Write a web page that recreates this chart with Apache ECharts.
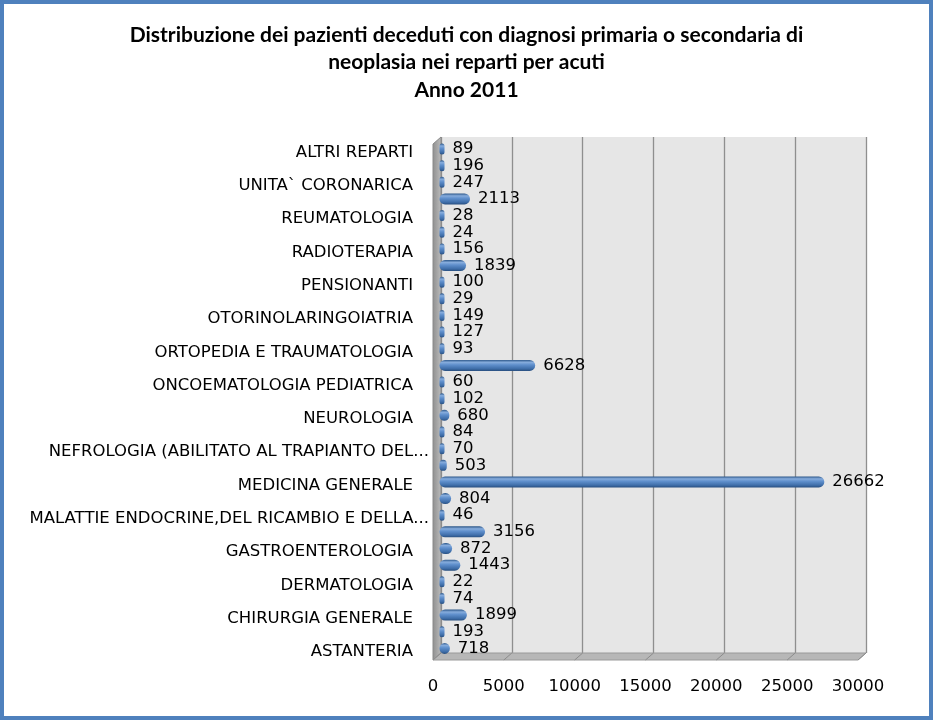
<!DOCTYPE html>
<html><head><meta charset="utf-8">
<script src="https://cdn.jsdelivr.net/npm/echarts@6/dist/echarts.min.js"></script>
<style>html,body{margin:0;padding:0;background:#fff}#c{width:933px;height:720px}</style>
</head><body><div id="c"></div>
<script>
// ---- data ----
const titleLines = [
  'Distribuzione dei pazienti deceduti con diagnosi primaria o secondaria di',
  'neoplasia nei reparti per acuti',
  'Anno 2011'
];
const categories = [
  'ASTANTERIA', 'CARDIOLOGIA', 'CHIRURGIA GENERALE', 'CHIRURGIA VASCOLARE', 'DERMATOLOGIA',
  'EMATOLOGIA', 'GASTROENTEROLOGIA', 'GERIATRIA',
  'MALATTIE ENDOCRINE,DEL RICAMBIO E DELLA NUTRIZIONE', 'MALATTIE INFETTIVE E TROPICALI',
  'MEDICINA GENERALE', 'NEFROLOGIA', 'NEFROLOGIA (ABILITATO AL TRAPIANTO DEL RENE)',
  'NEUROCHIRURGIA', 'NEUROLOGIA', 'NEUROPSICHIATRIA INFANTILE', 'ONCOEMATOLOGIA PEDIATRICA',
  'ONCOLOGIA', 'ORTOPEDIA E TRAUMATOLOGIA', 'OSTETRICIA E GINECOLOGIA', 'OTORINOLARINGOIATRIA',
  'PEDIATRIA', 'PENSIONANTI', 'PNEUMOLOGIA', 'RADIOTERAPIA', 'RECUPERO E RIABILITAZIONE FUNZIONALE',
  'REUMATOLOGIA', 'TERAPIA INTENSIVA', 'UNITA` CORONARICA', 'UROLOGIA', 'ALTRI REPARTI'
];
const deceased = [
  718, 193, 1899, 74, 22,
  1443, 872, 3156,
  46, 804,
  26662, 503, 70,
  84, 680, 102, 60,
  6628, 93, 127, 149,
  29, 100, 1839, 156, 24,
  28, 2113, 247, 196, 89
];
const xTickLabels = ['0', '5000', '10000', '15000', '20000', '25000', '30000'];
const xMin = 0, xMax = 30000, xStep = 5000;

// ---- layout / style ----
const WALL = { left: 441, top: 137, width: 425, height: 516 };
const DEPTH = { dx: -8, dy: 7 };
const BARS = { left: 439.5, top: 140.7, width: 433, height: 516 };
const FONT = 'DejaVu Sans';

const chart = echarts.init(document.getElementById('c'));
const B = WALL.top + WALL.height, R = WALL.left + WALL.width;
const graphics = [
  { type: 'rect', z: 10, shape: { x: 2, y: 2, width: 929, height: 716 },
    style: { fill: 'none', stroke: '#4f81bd', lineWidth: 4 } },
  { type: 'polygon', z: 1, shape: { points: [
      [WALL.left, WALL.top], [WALL.left + DEPTH.dx, WALL.top + DEPTH.dy],
      [WALL.left + DEPTH.dx, B + DEPTH.dy], [WALL.left, B]] },
    style: { fill: new echarts.graphic.LinearGradient(0, 0, 1, 0, [
      { offset: 0, color: '#8e8e8e' }, { offset: 1, color: '#bdbdbd' }]), stroke: '#8a8a8a', lineWidth: 1 } },
  { type: 'polygon', z: 1, shape: { points: [
      [WALL.left, B], [R, B], [R + DEPTH.dx, B + DEPTH.dy], [WALL.left + DEPTH.dx, B + DEPTH.dy]] },
    style: { fill: '#b7b7b7', stroke: '#9a9a9a', lineWidth: 1 } }
];
for (let i = 0; i < xTickLabels.length; i++) {
  const x = WALL.left + WALL.width * i / (xTickLabels.length - 1);
  graphics.push({ type: 'line', z: 2, shape: { x1: x, y1: B, x2: x + DEPTH.dx, y2: B + DEPTH.dy },
    style: { stroke: '#8c8c8c', lineWidth: 1 } });
}

const option = {
  animation: false,
  backgroundColor: '#ffffff',
  title: {
    text: titleLines.join('\n'),
    left: 'center', top: 16,
    textStyle: { fontFamily: 'Lato', fontWeight: 'bold', fontSize: 21, lineHeight: 27.5, color: '#000' }
  },
  graphic: graphics,
  grid: [
    { left: WALL.left, top: WALL.top, width: WALL.width, height: WALL.height,
      show: true, backgroundColor: '#e6e6e6', borderWidth: 0, containLabel: false },
    { left: BARS.left, top: BARS.top, width: BARS.width, height: BARS.height, containLabel: false },
    { left: WALL.left + DEPTH.dx, top: WALL.top + DEPTH.dy, width: WALL.width, height: WALL.height, containLabel: false }
  ],
  xAxis: [
    { type: 'value', gridIndex: 0, min: xMin, max: xMax, interval: xStep,
      axisLabel: { show: false }, axisLine: { show: false }, axisTick: { show: false },
      splitLine: { show: true, lineStyle: { color: '#8f8f8f', width: 1.3 } } },
    { type: 'value', gridIndex: 1, min: xMin, max: xMax, interval: xStep, show: false },
    { type: 'value', gridIndex: 2, min: xMin, max: xMax, interval: xStep,
      axisLine: { show: false }, axisTick: { show: false }, splitLine: { show: false },
      axisLabel: { margin: 18, color: '#000', fontFamily: FONT, fontSize: 16.5,
        formatter: (v, i) => xTickLabels[i] } }
  ],
  yAxis: [
    { type: 'category', gridIndex: 0, data: categories, show: false },
    { type: 'category', gridIndex: 1, data: categories,
      axisLine: { show: false }, axisTick: { show: false }, splitLine: { show: false },
      axisLabel: {
        interval: 1, margin: 10.5,
        formatter: v => {
          if (v.length > 40) {
            let s = v.substring(0, 40);
            s = s.substring(0, s.lastIndexOf(' '));
            return '{t|' + s + '...}';
          }
          return '{n|' + v + '}';
        },
        rich: {
          n: { fontFamily: FONT, fontSize: 16.5, color: '#000', padding: [7, 16, 0, 0] },
          t: { fontFamily: FONT, fontSize: 16.5, color: '#000', padding: [7, 0, 0, 0] }
        }
      } },
    { type: 'category', gridIndex: 2, data: categories, show: false }
  ],
  series: [{
    type: 'bar', xAxisIndex: 1, yAxisIndex: 1, z: 5,
    data: deceased, barWidth: 11, barMinHeight: 5,
    itemStyle: {
      borderRadius: 5.5,
      color: new echarts.graphic.LinearGradient(0, 0, 0, 1, [
        { offset: 0, color: '#2b5689' },
        { offset: 0.22, color: '#86acdc' },
        { offset: 0.45, color: '#5f8fcc' },
        { offset: 0.8, color: '#3f6ea9' },
        { offset: 1, color: '#284f80' }
      ])
    },
    label: { show: true, position: 'right', distance: 8, color: '#000',
      fontFamily: FONT, fontSize: 16.5, padding: [4, 0, 0, 0] }
  }]
};
chart.setOption(option);
</script>
</body></html>
